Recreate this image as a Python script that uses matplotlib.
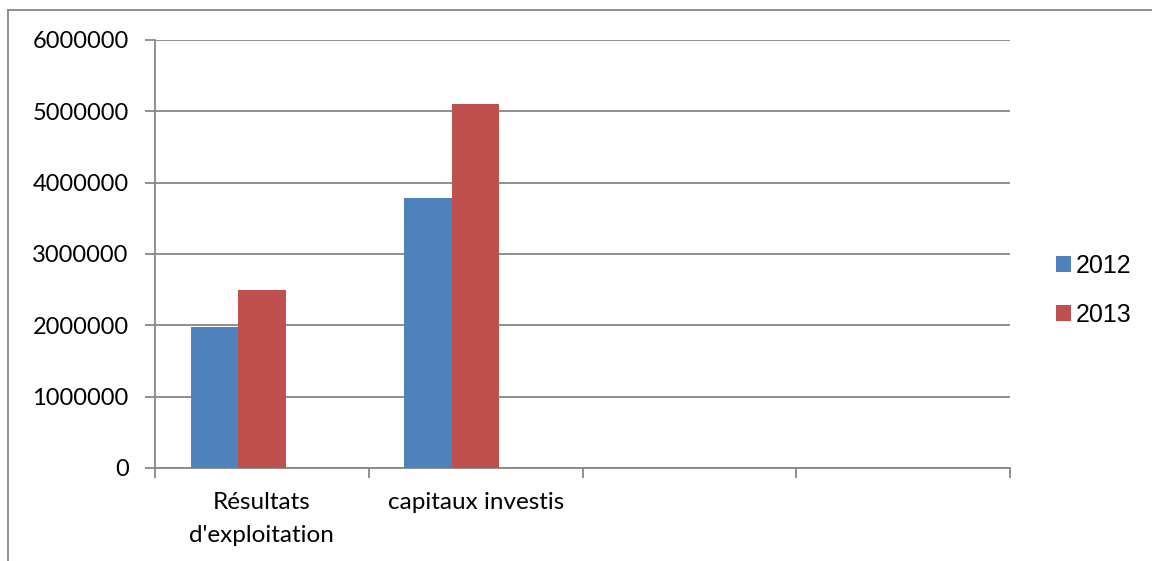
import matplotlib
matplotlib.use("Agg")
import matplotlib.pyplot as plt
from matplotlib.lines import Line2D
import numpy as np

categories = ["Résultats\nd'exploitation", "capitaux investis", "", ""]
series_names = ["2012", "2013"]
values_2012 = [1980000, 3790000, None, None]
values_2013 = [2500000, 5100000, None, None]
yticks = [0, 1000000, 2000000, 3000000, 4000000, 5000000, 6000000]

colors = ["#4F81BD", "#C0504D"]
grid_col = "#878787"

fig = plt.figure(figsize=(11.52, 5.61), dpi=100)
ax = fig.add_axes([155/1152, 1-468/561, (1010-155)/1152, (468-40)/561])

x = np.arange(len(categories))
w = 0.222
for i, (vals, col, name) in enumerate(zip([values_2012, values_2013], colors, series_names)):
    xs = [xi + (i - 1) * w for xi, v in zip(x, vals) if v is not None]
    vs = [v for v in vals if v is not None]
    ax.bar(xs, vs, width=w, color=col, label=name, zorder=3)

ax.set_xlim(-0.5, len(categories) - 0.5)
ax.set_ylim(0, 6000000)
ax.set_yticks(yticks)
ax.set_yticklabels([str(t) for t in yticks], fontsize=17.0, family="Lato")
ax.yaxis.grid(True, color=grid_col, linewidth=1.3, zorder=0)
ax.set_xticks(x)
ax.set_xticklabels(categories, fontsize=17.5, family="Lato", linespacing=1.7)
ax.set_xticks(np.arange(len(categories) + 1) - 0.5, minor=True)
ax.tick_params(axis="x", which="major", length=0, pad=17)
ax.tick_params(axis="x", which="minor", length=7, width=1.3, color=grid_col)
ax.tick_params(axis="y", length=7, width=1.3, color=grid_col, pad=12)
for s in ["top", "right"]:
    ax.spines[s].set_visible(False)
for s in ["left", "bottom"]:
    ax.spines[s].set_color(grid_col)
    ax.spines[s].set_linewidth(1.3)

leg = ax.legend(loc="center left", bbox_to_anchor=(1.027, 0.415), frameon=False,
                prop={"family": "Liberation Sans", "size": 18}, handlelength=0.6,
                handleheight=0.6, handletextpad=0.2, labelspacing=1.0)

fig.add_artist(Line2D([8/1152, 1], [1-10/561, 1-10/561], color=grid_col, linewidth=1.3))
fig.add_artist(Line2D([8/1152, 8/1152], [0, 1-10/561], color=grid_col, linewidth=1.3))

fig.savefig("out.png", dpi=100)
